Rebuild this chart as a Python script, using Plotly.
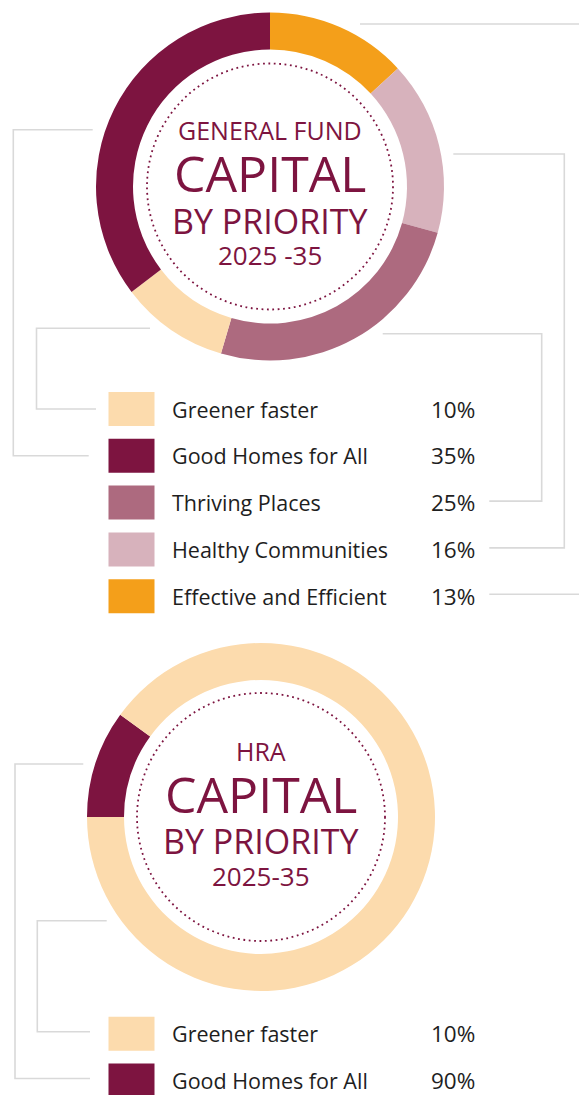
import plotly.graph_objects as go

W, H = 579, 1095

MAROON = "#7D1440"
ORANGE = "#F49F1A"
PINK = "#D7B2BC"
MAUVE = "#AD6A7F"
CREAM = "#FCDBAD"
GREY = "#D9D9D9"
TXT = "#1E1E1E"
FONT = "Open Sans"

# ---------------- data ----------------
gf_labels = ["Greener faster", "Good Homes for All", "Thriving Places",
             "Healthy Communities", "Effective and Efficient"]
gf_values = [10, 35, 25, 16, 13]
gf_pct = ["10%", "35%", "25%", "16%", "13%"]
gf_colors = [CREAM, MAROON, MAUVE, PINK, ORANGE]
gf_ring_order = [4, 3, 2, 0, 1]          # clockwise from 12 o'clock
gf_title = ["GENERAL FUND", "CAPITAL", "BY PRIORITY", "2025 -35"]

hra_labels = ["Greener faster", "Good Homes for All"]
hra_pct = ["10%", "90%"]
hra_legend_colors = [CREAM, MAROON]
hra_ring_values = [10, 90]                # as drawn in the ring, from 9 o'clock clockwise
hra_ring_colors = [MAROON, CREAM]
hra_title = ["HRA", "CAPITAL", "BY PRIORITY", "2025-35"]

# ---------------- layout constants ----------------
R_OUT = 174
HOLE = 137 / 174
GF_C = (270, 186.5)
HRA_C = (261, 817)
DOT_R = (123, 124)

fig = go.Figure()


def add_donut(center, values, colors, rotation):
    cx, cy = center
    fig.add_trace(go.Pie(
        values=values,
        marker=dict(colors=colors, line=dict(width=0)),
        hole=HOLE, sort=False, direction="clockwise", rotation=rotation,
        textinfo="none", hoverinfo="skip", showlegend=False,
        domain=dict(x=[(cx - R_OUT) / W, (cx + R_OUT) / W],
                    y=[(H - cy - R_OUT) / H, (H - cy + R_OUT) / H]),
    ))


add_donut(GF_C, [gf_values[i] for i in gf_ring_order],
          [gf_colors[i] for i in gf_ring_order], 0)
add_donut(HRA_C, hra_ring_values, hra_ring_colors, 270)

shapes = []
annotations = []

# dotted inner circles
for (cx, cy), r in zip([GF_C, HRA_C], DOT_R):
    shapes.append(dict(type="circle", xref="x", yref="y",
                       x0=cx - r, x1=cx + r, y0=cy - r, y1=cy + r,
                       line=dict(color=MAROON, width=1.8, dash="1.8px,3.6px")))

# center titles
title_sizes = [25, 50, 34, 26]
gf_title_y = [129.5, 172.5, 220.5, 254.5]
hra_title_y = [750.5, 793.5, 840.5, 875.5]
for txt, s, y in zip(gf_title, title_sizes, gf_title_y):
    annotations.append(dict(x=GF_C[0], y=y, xref="x", yref="y", text=txt,
                            showarrow=False, xanchor="center", yanchor="middle",
                            font=dict(family=FONT, size=s, color=MAROON)))
for txt, s, y in zip(hra_title, title_sizes, hra_title_y):
    annotations.append(dict(x=HRA_C[0], y=y, xref="x", yref="y", text=txt,
                            showarrow=False, xanchor="center", yanchor="middle",
                            font=dict(family=FONT, size=s, color=MAROON)))


def add_legend(y0, labels, pcts, colors):
    ys = []
    for i, (lab, p, c) in enumerate(zip(labels, pcts, colors)):
        y = y0 + i * 46.8
        ys.append(y)
        shapes.append(dict(type="rect", xref="x", yref="y", x0=108.5, x1=154.5,
                           y0=y - 17, y1=y + 17, fillcolor=c, line=dict(width=0)))
        annotations.append(dict(x=170, y=y, xref="x", yref="y", text=lab,
                                showarrow=False, xanchor="left", yanchor="middle",
                                font=dict(family=FONT, size=21.5, color=TXT)))
        annotations.append(dict(x=477, y=y, xref="x", yref="y", text=p,
                                showarrow=False, xanchor="right", yanchor="middle",
                                font=dict(family=FONT, size=22.5, color=TXT)))
    return ys


gf_y = add_legend(409, gf_labels, gf_pct, gf_colors)
hra_y = add_legend(1033.7, hra_labels, hra_pct, hra_legend_colors)


def path(d):
    shapes.append(dict(type="path", xref="x", yref="y", path=d,
                       line=dict(color=GREY, width=1.6)))


# GF connectors
path(f"M 150 328.3 L 36.5 328.3 L 36.5 {gf_y[0]} L 96 {gf_y[0]}")
path(f"M 92.7 129.7 L 13.3 129.7 L 13.3 {gf_y[1]} L 88.7 {gf_y[1]}")
path(f"M 382.7 333.7 L 541.7 333.7 L 541.7 {gf_y[2]-1.5} L 489.3 {gf_y[2]-1.5}")
path(f"M 453.3 154 L 564.3 154 L 564.3 {gf_y[3]-1.5} L 489.3 {gf_y[3]-1.5}")
path("M 360 24 L 580 24")
path(f"M 489.3 {gf_y[4]-2} L 580 {gf_y[4]-2}")
# HRA connectors
path(f"M 106.7 920.7 L 37.3 920.7 L 37.3 {hra_y[0]-2} L 90 {hra_y[0]-2}")
path(f"M 83.3 764 L 15 764 L 15 {hra_y[1]-2} L 90 {hra_y[1]-2}")

fig.update_layout(
    width=W, height=H,
    margin=dict(l=0, r=0, t=0, b=0),
    paper_bgcolor="white", plot_bgcolor="white",
    xaxis=dict(range=[0, W], visible=False, fixedrange=True),
    yaxis=dict(range=[H, 0], visible=False, fixedrange=True),
    shapes=shapes, annotations=annotations,
    showlegend=False,
)

fig.write_html(
    "out.html",
    config={"displayModeBar": False},
    post_script="document.body.style.margin='0';document.body.style.overflow='hidden';",
)
